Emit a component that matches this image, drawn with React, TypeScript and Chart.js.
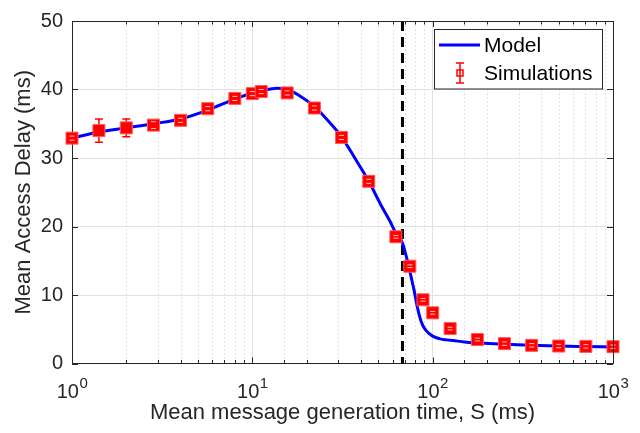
import React, { useEffect, useRef } from 'react';
import { Chart, registerables } from 'chart.js';
Chart.register(...registerables);

// ---------- data ----------
const simX = [1, 1.41, 2, 2.83, 4, 5.66, 8, 10, 11.2, 15.6, 22.1, 31.25, 44.2, 62.5, 74.7, 88.4, 100, 125, 177, 250, 354, 500, 707, 1000];
const simY = [32.9, 34.0, 34.4, 34.8, 35.5, 37.2, 38.7, 39.4, 39.7, 39.5, 37.3, 33.0, 26.6, 18.5, 14.2, 9.3, 7.4, 5.1, 3.5, 2.9, 2.65, 2.55, 2.5, 2.45];
const simErr = [0.3, 1.7, 1.3, 0.5, 0.3, 0.3, 0.3, 0.3, 0.3, 0.3, 0.3, 0.3, 0.3, 0.2, 0.2, 0.2, 0.2, 0.2, 0.2, 0.25, 0.25, 0.25, 0.25, 0.25];

const modelX = [1, 1.41, 2, 2.83, 4, 5.66, 8, 10, 11.2, 13.7, 15.6, 18, 22.1, 26, 31.25, 37, 44.2, 52, 57.9, 62.5, 68, 73, 76, 79, 82, 85, 88, 92, 100, 110, 120, 130, 150, 180, 250, 350, 500, 700, 1000];
const modelY = [32.9, 33.8, 34.4, 35.0, 35.7, 37.0, 38.6, 39.5, 39.8, 40.2, 40.0, 39.2, 37.5, 35.6, 33.1, 30.0, 26.6, 23.0, 20.8, 19.0, 17.6, 14.6, 12.6, 10.6, 8.4, 6.7, 5.6, 4.8, 4.0, 3.6, 3.45, 3.35, 3.15, 3.0, 2.8, 2.65, 2.55, 2.48, 2.41];

const thresholdX = 68;
const xDecades = [1, 10, 100, 1000];
const xDecadeExp = ['0', '1', '2', '3'];
const yTicks = [0, 10, 20, 30, 40, 50];

const xTitle = 'Mean message generation time, S (ms)';
const yTitle = 'Mean Access Delay (ms)';
const legendLabels = ['Model', 'Simulations'];

const FONT = '"Liberation Sans", Arial, Helvetica, sans-serif';
const AXIS_COLOR = '#262626';
const GRID_COLOR = '#e0e0e0';

const isDecade = (v: number) => Math.abs(Math.log10(v) - Math.round(Math.log10(v))) < 1e-6;

const decor = {
  id: 'decor',
  beforeDatasetsDraw(chart: any) {
    const { ctx, chartArea: a, scales } = chart;
    const x = scales.x, y = scales.y;
    ctx.save();
    // minor dashed gridlines
    ctx.strokeStyle = '#e2e2e2';
    ctx.lineWidth = 1;
    ctx.setLineDash([2, 2]);
    for (const t of x.ticks) {
      if (isDecade(t.value)) continue;
      const px = Math.round(x.getPixelForValue(t.value)) + 0.5;
      ctx.beginPath();
      ctx.moveTo(px, a.top);
      ctx.lineTo(px, a.bottom);
      ctx.stroke();
    }
    // threshold dashed line
    ctx.strokeStyle = '#000000';
    ctx.lineWidth = 3;
    ctx.setLineDash([10, 6]);
    const tx = x.getPixelForValue(thresholdX);
    ctx.beginPath();
    ctx.moveTo(tx, a.top);
    ctx.lineTo(tx, a.bottom);
    ctx.stroke();
    ctx.setLineDash([]);
    // error bars
    ctx.strokeStyle = '#ff0000';
    ctx.lineWidth = 1.5;
    simX.forEach((sx, i) => {
      const px = x.getPixelForValue(sx);
      const top = y.getPixelForValue(simY[i] + simErr[i]);
      const bot = y.getPixelForValue(simY[i] - simErr[i]);
      ctx.beginPath();
      ctx.moveTo(px, top); ctx.lineTo(px, bot);
      ctx.moveTo(px - 4, top); ctx.lineTo(px + 4, top);
      ctx.moveTo(px - 4, bot); ctx.lineTo(px + 4, bot);
      ctx.stroke();
    });
    ctx.restore();
  },
  afterDatasetsDraw(chart: any) {
    const { ctx, chartArea: a, scales } = chart;
    const x = scales.x, y = scales.y;
    ctx.save();
    // pale caps inside markers
    ctx.strokeStyle = 'rgba(255,200,200,0.95)';
    ctx.lineWidth = 1;
    simX.forEach((sx, i) => {
      const px = x.getPixelForValue(sx);
      const top = y.getPixelForValue(simY[i] + simErr[i]);
      const bot = y.getPixelForValue(simY[i] - simErr[i]);
      const cy = y.getPixelForValue(simY[i]);
      if (cy - top < 5) {
        ctx.beginPath();
        ctx.moveTo(px - 2.5, top); ctx.lineTo(px + 2.5, top);
        ctx.moveTo(px - 2.5, bot); ctx.lineTo(px + 2.5, bot);
        ctx.stroke();
      }
    });
    // box top & right
    ctx.strokeStyle = AXIS_COLOR;
    ctx.lineWidth = 1;
    ctx.beginPath();
    ctx.moveTo(a.left, Math.round(a.top) + 0.5);
    ctx.lineTo(a.right, Math.round(a.top) + 0.5);
    ctx.moveTo(Math.round(a.right) + 0.5, a.top);
    ctx.lineTo(Math.round(a.right) + 0.5, a.bottom);
    ctx.stroke();
    // inward ticks
    ctx.beginPath();
    for (const t of x.ticks) {
      const px = Math.round(x.getPixelForValue(t.value)) + 0.5;
      const len = isDecade(t.value) ? 6 : 3.5;
      ctx.moveTo(px, a.bottom); ctx.lineTo(px, a.bottom - len);
      ctx.moveTo(px, a.top); ctx.lineTo(px, a.top + len);
    }
    for (const v of yTicks) {
      const py = Math.round(y.getPixelForValue(v)) + 0.5;
      ctx.moveTo(a.left, py); ctx.lineTo(a.left + 6, py);
      ctx.moveTo(a.right, py); ctx.lineTo(a.right - 6, py);
    }
    ctx.stroke();
    // x tick labels 10^n
    ctx.fillStyle = AXIS_COLOR;
    ctx.textBaseline = 'alphabetic';
    xDecades.forEach((v, i) => {
      const px = x.getPixelForValue(v);
      ctx.font = `20px ${FONT}`;
      const wBase = ctx.measureText('10').width;
      ctx.font = `15px ${FONT}`;
      const wExp = ctx.measureText(xDecadeExp[i]).width;
      const start = px - (wBase + wExp) / 2;
      ctx.font = `20px ${FONT}`;
      ctx.textAlign = 'left';
      ctx.fillText('10', start, 398);
      ctx.font = `15px ${FONT}`;
      ctx.fillText(xDecadeExp[i], start + wBase + 0.5, 388);
    });
    // legend
    const lx = 434.5, ly = 29.5, lw = 168, lh = 59.5;
    ctx.fillStyle = '#ffffff';
    ctx.fillRect(lx, ly, lw, lh);
    ctx.strokeStyle = AXIS_COLOR;
    ctx.lineWidth = 1;
    ctx.strokeRect(lx, ly, lw, lh);
    ctx.strokeStyle = '#0000ff';
    ctx.lineWidth = 3;
    ctx.beginPath();
    ctx.moveTo(439, 45); ctx.lineTo(480, 45);
    ctx.stroke();
    ctx.strokeStyle = '#ff0000';
    ctx.lineWidth = 1.5;
    ctx.beginPath();
    ctx.moveTo(460, 63); ctx.lineTo(460, 83);
    ctx.moveTo(456, 63); ctx.lineTo(464, 63);
    ctx.moveTo(456, 83); ctx.lineTo(464, 83);
    ctx.stroke();
    ctx.strokeRect(457, 70, 6, 6);
    ctx.fillStyle = '#000000';
    ctx.font = `21px ${FONT}`;
    ctx.textAlign = 'left';
    ctx.textBaseline = 'middle';
    ctx.fillText(legendLabels[0], 484, 46);
    ctx.fillText(legendLabels[1], 484, 74);
    ctx.restore();
  },
};

export default function App() {
  const ref = useRef<HTMLCanvasElement | null>(null);
  useEffect(() => {
    if (!ref.current) return;
    const chart = new Chart(ref.current, {
      type: 'line',
      data: {
        datasets: [
          {
            label: legendLabels[1],
            data: simX.map((v, i) => ({ x: v, y: simY[i] })),
            showLine: false,
            clip: false,
            pointStyle: 'rect',
            pointRadius: 8.5,
            pointBackgroundColor: '#ff0000',
            pointBorderColor: '#ff5a5a',
            pointBorderWidth: 1,
          },
          {
            label: legendLabels[0],
            data: modelX.map((v, i) => ({ x: v, y: modelY[i] })),
            borderColor: '#0000ff',
            borderWidth: 3,
            pointRadius: 0,
            cubicInterpolationMode: 'monotone',
            fill: false,
          },
        ],
      },
      options: {
        responsive: false,
        animation: false,
        layout: { padding: { top: 18.5, right: 27, left: 0, bottom: 0 } },
        plugins: { legend: { display: false }, tooltip: { enabled: false } },
        scales: {
          x: {
            type: 'logarithmic',
            min: 1,
            max: 1000,
            afterFit: (s: any) => { s.height = 69.5; },
            ticks: { callback: () => '', autoSkip: false, font: { size: 20, family: FONT } },
            grid: {
              color: (c: any) => (c.tick && isDecade(c.tick.value) ? GRID_COLOR : 'rgba(0,0,0,0)'),
              drawTicks: false,
            },
            border: { color: AXIS_COLOR, width: 1 },
            title: {
              display: true,
              text: xTitle,
              color: AXIS_COLOR,
              font: { size: 22, family: FONT },
              padding: { top: 0, bottom: 7 },
            },
          },
          y: {
            min: 0,
            max: 50,
            afterFit: (s: any) => { s.width = 72; },
            afterBuildTicks: (s: any) => { s.ticks = yTicks.map((v) => ({ value: v })); },
            ticks: { color: AXIS_COLOR, padding: 9, font: { size: 20, family: FONT } },
            grid: { color: GRID_COLOR, drawTicks: false },
            border: { color: AXIS_COLOR, width: 1 },
            title: {
              display: true,
              text: yTitle,
              color: AXIS_COLOR,
              font: { size: 22, family: FONT },
              padding: { top: 11, bottom: 0 },
            },
          },
        },
      },
      plugins: [decor],
    });
    return () => chart.destroy();
  }, []);
  return (
    <div style={{ position: 'absolute', left: 0, top: 0, width: 640, height: 433, background: '#fff' }}>
      <canvas ref={ref} width={640} height={433} style={{ display: 'block' }} />
    </div>
  );
}
